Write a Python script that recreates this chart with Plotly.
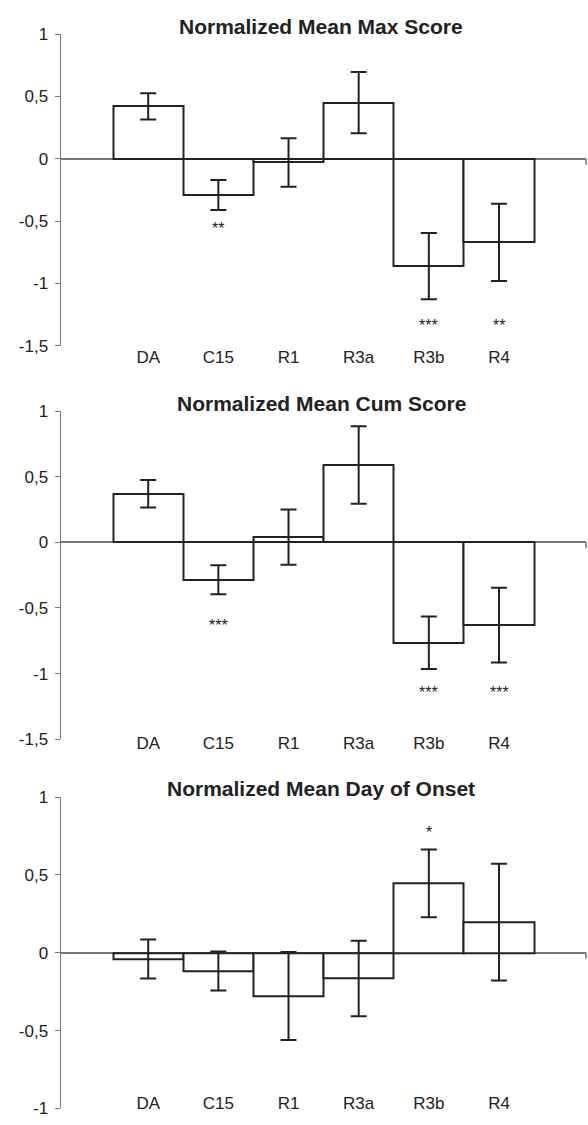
import plotly.graph_objects as go

# ---------------- data ----------------
categories = ["DA", "C15", "R1", "R3a", "R3b", "R4"]

max_mean = [0.42, -0.29, -0.03, 0.45, -0.86, -0.67]
max_err = [0.105, 0.12, 0.195, 0.245, 0.265, 0.31]
max_stars = ["", "**", "", "", "***", "**"]
max_star_y = [None, -0.555, None, None, -1.34, -1.34]

cum_mean = [0.37, -0.285, 0.04, 0.59, -0.765, -0.63]
cum_err = [0.105, 0.11, 0.21, 0.295, 0.2, 0.285]
cum_stars = ["", "***", "", "", "***", "***"]
cum_star_y = [None, -0.635, None, None, -1.142, -1.142]

onset_mean = [-0.04, -0.117, -0.278, -0.165, 0.446, 0.197]
onset_err = [0.125, 0.126, 0.283, 0.242, 0.218, 0.375]
onset_stars = ["", "", "", "", "*", ""]
onset_star_y = [None, None, None, None, 0.771, None]

titles = ["Normalized Mean Max Score", "Normalized Mean Cum Score",
          "Normalized Mean Day of Onset"]

ytick_vals_a = [1, 0.5, 0, -0.5, -1, -1.5]
ytick_text_a = ["1", "0,5", "0", "-0,5", "-1", "-1,5"]
ytick_vals_b = [1, 0.5, 0, -0.5, -1]
ytick_text_b = ["1", "0,5", "0", "-0,5", "-1"]

# ---------------- layout geometry ----------------
W, H = 588, 1125
FONT = "Liberation Sans, Arial, Helvetica, sans-serif"
INK = "#222222"
AXIS = "#777777"

panels = [
    dict(mean=max_mean, err=max_err, stars=max_stars, star_y=max_star_y,
         yr=[-1.5, 1], top=25.5, bot=342.7, lab=342, title_y=17.5,
         tv=ytick_vals_a, tt=ytick_text_a),
    dict(mean=cum_mean, err=cum_err, stars=cum_stars, star_y=cum_star_y,
         yr=[-1.5, 1], top=409, bot=742.8, lab=734, title_y=401.7,
         tv=ytick_vals_a, tt=ytick_text_a),
    dict(mean=onset_mean, err=onset_err, stars=onset_stars, star_y=onset_star_y,
         yr=[-1, 1], top=801.7, bot=1118.3, lab=1101, title_y=793,
         tv=ytick_vals_b, tt=ytick_text_b),
]

x_dom = [60.5 / W, 586 / W]
x_range = [-1.25, 6.24]

fig = go.Figure()
annotations = []
shapes = []
layout = {}

for i, p in enumerate(panels):
    n = "" if i == 0 else str(i + 1)
    xa, ya = "x" + n, "y" + n
    fig.add_trace(go.Bar(
        x=categories, y=p["mean"], xaxis=xa, yaxis=ya,
        marker=dict(color="white", line=dict(color=INK, width=2)),
        error_y=dict(type="data", array=p["err"], visible=True,
                     color=INK, thickness=2, width=8),
        width=1.0, showlegend=False, hoverinfo="x+y",
    ))
    layout["xaxis" + n] = dict(
        domain=x_dom, range=x_range, anchor="free",
        position=1 - p["lab"] / H,
        showline=False, ticks="", showgrid=False, zeroline=False,
        tickfont=dict(family=FONT, size=17, color=INK),
        type="category",
    )
    layout["yaxis" + n] = dict(
        domain=[1 - p["bot"] / H, 1 - p["top"] / H], range=p["yr"],
        anchor=xa, showline=True, linecolor=AXIS, linewidth=1,
        ticks="outside", ticklen=5, tickcolor=AXIS, tickwidth=1,
        ticklabelstandoff=3,
        tickvals=p["tv"], ticktext=p["tt"], showgrid=False,
        zeroline=True, zerolinecolor=AXIS, zerolinewidth=1.5,
        tickfont=dict(family=FONT, size=17, color=INK),
    )
    annotations.append(dict(
        text="<b>" + titles[i] + "</b>", xref="paper", yref="paper",
        x=321 / W, y=1 - p["title_y"] / H, xanchor="center", yanchor="middle",
        showarrow=False, font=dict(family=FONT, size=21, color=INK),
    ))
    for c, s, sy in zip(categories, p["stars"], p["star_y"]):
        if s:
            annotations.append(dict(
                text=s, x=c, y=sy, xref=xa, yref=ya, showarrow=False,
                font=dict(family=FONT, size=16, color=INK),
            ))
    shapes.append(dict(
        type="line", xref=xa + " domain", yref=ya, x0=1, x1=1,
        ysizemode="pixel", yanchor=0, y0=0, y1=-6,
        line=dict(color=AXIS, width=1.5),
    ))

fig.update_layout(
    width=W, height=H, margin=dict(l=0, r=0, t=0, b=0),
    paper_bgcolor="white", plot_bgcolor="white",
    bargap=0, annotations=annotations, shapes=shapes, **layout,
)

fig.write_html("out.html")
